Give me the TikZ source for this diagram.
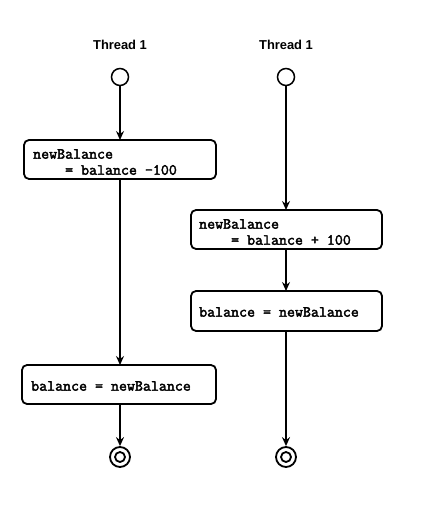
\documentclass[tikz,border=0pt]{standalone}
\usepackage{fontspec}
\setmainfont{Liberation Sans}
\setmonofont{Latin Modern Mono}[AutoFakeBold=2.5]
\usetikzlibrary{arrows.meta,positioning}
\begin{document}
\begin{tikzpicture}[x=1pt,y=-1pt,
  title/.style={font=\fontsize{12.9}{15}\selectfont\bfseries},
  actbox/.style={draw=black,line width=1.8pt,rounded corners=5pt,fill=white},
  code/.style={font=\fontsize{15.5}{16}\selectfont\ttfamily\bfseries,anchor=west,inner sep=0pt},
  startc/.style={circle,draw=black,line width=1.5pt,minimum size=17pt,inner sep=0pt,fill=white},
  endc/.style={circle,draw=black,line width=1.8pt,minimum size=20pt,inner sep=0pt,fill=white},
  endin/.style={circle,draw=black,line width=1.8pt,minimum size=10pt,inner sep=0pt},
  flow/.style={line width=1.8pt,-{Stealth[length=9pt,width=8pt,inset=3pt]}}]
\useasboundingbox (0,0) rectangle (432,510);
% titles
\node[title] (t1) at (120,45) {Thread 1};
\node[title] (t2) at (286,45) {Thread 1};
% start nodes
\node[startc] (s1) at (120,77) {};
\node[startc] (s2) at (286,77) {};
% boxes
\draw[actbox] (24,140) rectangle (216,179);
\coordinate (b1n) at (120,140); \coordinate (b1s) at (120,179);
\node[code] (b1a) at (33,154) {newBalance};
\node[code] (b1b) at (33,170) {\ \ \ \ = balance -100};
\draw[actbox] (191,210) rectangle (382,249);
\coordinate (b2n) at (286,210); \coordinate (b2s) at (286,249);
\node[code] (b2a) at (199,224) {newBalance};
\node[code] (b2b) at (199,240) {\ \ \ \ = balance + 100};
\draw[actbox] (191,291) rectangle (382,331);
\coordinate (b3n) at (286,291); \coordinate (b3s) at (286,331);
\node[code] (b3a) at (199,312) {balance = newBalance};
\draw[actbox] (22,365) rectangle (216,404);
\coordinate (b4n) at (120,365); \coordinate (b4s) at (120,404);
\node[code] (b4a) at (31,386) {balance = newBalance};
% end nodes
\node[endc] (e1) at (120,457) {};
\node[endin] (e1i) at (120,457) {};
\node[endc] (e2) at (286,457) {};
\node[endin] (e2i) at (286,457) {};
% flows
\draw[flow] (s1) -- (b1n);
\draw[flow] (b1s) -- (b4n);
\draw[flow] (b4s) -- (e1);
\draw[flow] (s2) -- (b2n);
\draw[flow] (b2s) -- (b3n);
\draw[flow] (b3s) -- (e2);
\end{tikzpicture}
\end{document}
